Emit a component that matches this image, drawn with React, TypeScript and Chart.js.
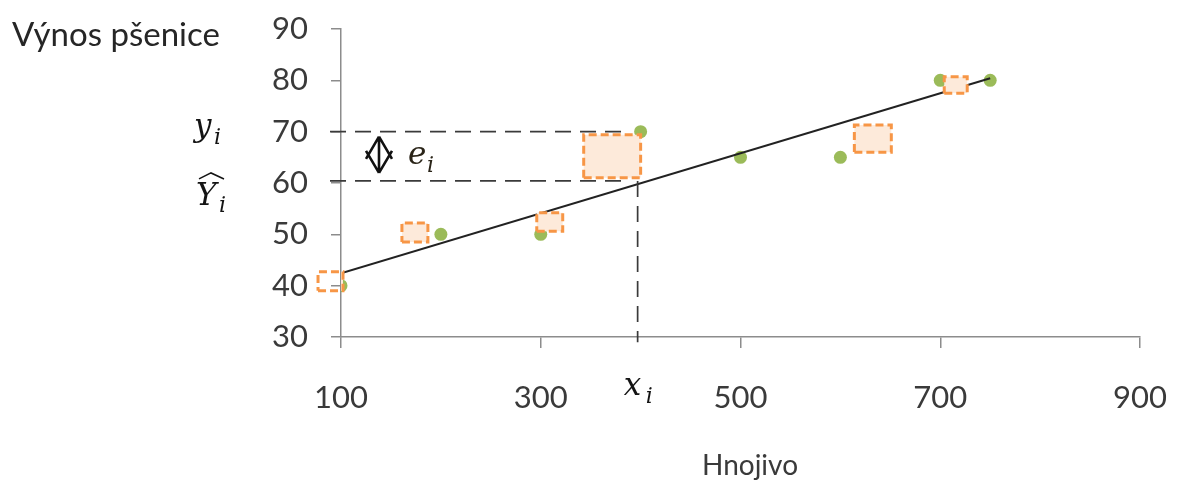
import React, { useEffect, useRef } from 'react';
import { Chart, registerables } from 'chart.js';

Chart.register(...registerables);

// ---- data ----
const fertilizer = [100, 200, 300, 400, 500, 600, 700, 750];
const wheatYield = [40, 50, 50, 70, 65, 65, 80, 80];
const fitX = [100, 750];
const fitY = [42.4, 80.4];
// squared-residual boxes (data units)
const boxXMin = [77, 161, 296, 343, 614, 704];
const boxXMax = [102, 187, 322, 400, 651, 727];
const boxYMin = [39.0, 48.5, 50.6, 61.0, 66.0, 77.5];
const boxYMax = [42.7, 52.2, 54.2, 69.4, 71.3, 80.7];
const xTicks = [100, 300, 500, 700, 900];
const yTicks = [30, 40, 50, 60, 70, 80, 90];
// guide lines for the highlighted observation
const guideYi = 70;
const guideYhat = 60.4;
const guideXi = 397;
const guideXStart = 89;
const guideXEnd = 388;
const guideYBottom = 29;

const Y_TITLE = 'Výnos pšenice';
const X_TITLE = 'Hnojivo';

const GREEN = '#9BBB59';
const ORANGE = '#F79646';
const PEACH = '#FDEADA';
const AXIS = '#8C8C8C';
const TEXT = '#3A3A3A';

const annotations = {
  id: 'mathAnnotations',
  afterDraw(chart: any) {
    const { ctx, scales } = chart;
    const x = scales.x;
    const y = scales.y;
    ctx.save();
    ctx.fillStyle = '#262626';
    ctx.textAlign = 'left';
    ctx.textBaseline = 'alphabetic';
    ctx.font = '33px Lato';
    ctx.fillText(Y_TITLE, 12, 46);

    // x axis title
    ctx.fillStyle = TEXT;
    ctx.font = '28px Lato';
    ctx.textAlign = 'center';
    ctx.fillText(X_TITLE, 750, 475);
    ctx.textAlign = 'left';

    const yi = y.getPixelForValue(guideYi);
    const yh = y.getPixelForValue(guideYhat);
    const xi = x.getPixelForValue(guideXi);
    const big = 'italic 31px "DejaVu Serif"';
    const sub = 'italic 22px "DejaVu Serif"';
    ctx.fillStyle = '#141414';
    // y_i
    ctx.font = big;
    ctx.fillText('y', 194, yi + 4);
    ctx.font = sub;
    ctx.fillText('i', 214, yi + 12);
    // Y-hat_i
    ctx.font = big;
    ctx.fillText('Y', 196, yh + 24);
    ctx.font = sub;
    ctx.fillText('i', 219, yh + 31);
    ctx.strokeStyle = '#141414';
    ctx.lineWidth = 1.5;
    ctx.beginPath();
    ctx.moveTo(199, yh - 2);
    ctx.lineTo(211, yh - 8);
    ctx.lineTo(224, yh - 2);
    ctx.stroke();
    // e_i
    const em = (yi + yh) / 2;
    ctx.fillStyle = '#2a2418';
    ctx.font = big;
    ctx.fillText('e', 408, em + 8);
    ctx.font = sub;
    ctx.fillText('i', 427, em + 16);
    // x_i
    ctx.fillStyle = '#141414';
    ctx.font = big;
    ctx.fillText('x', xi - 14, 395);
    ctx.font = sub;
    ctx.fillText('i', xi + 8, 403);
    // double arrow
    const ax = 379;
    const top = yi + 5;
    const bot = yh - 8;
    const mid = (top + bot) / 2;
    ctx.strokeStyle = '#111';
    ctx.lineWidth = 2.6;
    ctx.beginPath();
    ctx.moveTo(ax, top);
    ctx.lineTo(ax, bot);
    ctx.moveTo(ax, top);
    ctx.lineTo(ax - 13, mid + 4);
    ctx.moveTo(ax, top);
    ctx.lineTo(ax + 13, mid + 4);
    ctx.moveTo(ax, bot);
    ctx.lineTo(ax - 13, mid - 4);
    ctx.moveTo(ax, bot);
    ctx.lineTo(ax + 13, mid - 4);
    ctx.stroke();
    ctx.restore();
  },
};

export default function App() {
  const ref = useRef<HTMLCanvasElement | null>(null);

  useEffect(() => {
    if (!ref.current) return;
    const boxes = boxXMin.map((x0, i) => ({
      type: 'scatter' as const,
      data: [
        { x: x0, y: boxYMin[i] },
        { x: boxXMax[i], y: boxYMin[i] },
        { x: boxXMax[i], y: boxYMax[i] },
        { x: x0, y: boxYMax[i] },
        { x: x0, y: boxYMin[i] },
      ],
      showLine: true,
      fill: 'shape',
      backgroundColor: PEACH,
      borderColor: ORANGE,
      borderWidth: 3,
      borderDash: [8, 4],
      pointRadius: 0,
      tension: 0,
      clip: false,
      order: 1,
    }));
    const guide = (pts: { x: number; y: number }[]) => ({
      type: 'scatter' as const,
      data: pts,
      showLine: true,
      borderColor: '#3a3a3a',
      borderWidth: 1.7,
      borderDash: [16, 9],
      pointRadius: 0,
      fill: false,
      clip: false,
      order: 0,
    });
    const chart = new Chart(ref.current, {
      type: 'scatter',
      data: {
        datasets: [
          {
            data: fertilizer.map((v, i) => ({ x: v, y: wheatYield[i] })),
            backgroundColor: GREEN,
            borderColor: GREEN,
            pointRadius: 6.5,
            borderWidth: 0,
            order: 4,
          },
          {
            data: fitX.map((v, i) => ({ x: v, y: fitY[i] })),
            showLine: true,
            borderColor: '#222',
            borderWidth: 2,
            pointRadius: 0,
            order: 3,
          },
          ...boxes,
          guide([
            { x: guideXStart, y: guideYi },
            { x: guideXEnd, y: guideYi },
          ]),
          guide([
            { x: guideXStart, y: guideYhat },
            { x: guideXEnd, y: guideYhat },
          ]),
          guide([
            { x: guideXi, y: guideYhat },
            { x: guideXi, y: guideYBottom },
          ]),
        ] as any,
      },
      options: {
        animation: false,
        responsive: false,
        events: [],
        layout: { padding: { left: 0, top: 29, right: 38, bottom: 0 } },
        plugins: { legend: { display: false }, tooltip: { enabled: false } },
        scales: {
          x: {
            type: 'linear',
            min: 100,
            max: 900,
            afterBuildTicks: (s: any) => {
              s.ticks = xTicks.map((v) => ({ value: v }));
            },
            afterFit: (s: any) => {
              s.height = 146;
              s.paddingLeft = 0;
              s.paddingRight = 0;
            },
            ticks: {
              font: { family: 'Lato', size: 31 },
              color: TEXT,
              padding: 31,
              maxRotation: 0,
            },
            grid: {
              drawOnChartArea: false,
              drawTicks: true,
              tickLength: 11,
              color: AXIS,
              lineWidth: 1.5,
            },
            border: { display: true, color: AXIS, width: 1.5 },
            title: { display: false },
          },
          y: {
            type: 'linear',
            min: 30,
            max: 90,
            afterBuildTicks: (s: any) => {
              s.ticks = yTicks.map((v) => ({ value: v }));
            },
            afterFit: (s: any) => {
              s.width = 341;
              s.paddingTop = 0;
              s.paddingBottom = 0;
            },
            ticks: {
              font: { family: 'Lato', size: 31 },
              color: TEXT,
              padding: 23,
            },
            grid: {
              drawOnChartArea: false,
              drawTicks: true,
              tickLength: 10,
              color: AXIS,
              lineWidth: 1.5,
            },
            border: { display: true, color: AXIS, width: 1.5 },
          },
        },
      },
      plugins: [annotations],
    });
    return () => chart.destroy();
  }, []);

  return (
    <div style={{ position: 'fixed', left: 0, top: 0, width: 1178, height: 483, background: '#fff' }}>
      <canvas ref={ref} width={1178} height={483} />
    </div>
  );
}
